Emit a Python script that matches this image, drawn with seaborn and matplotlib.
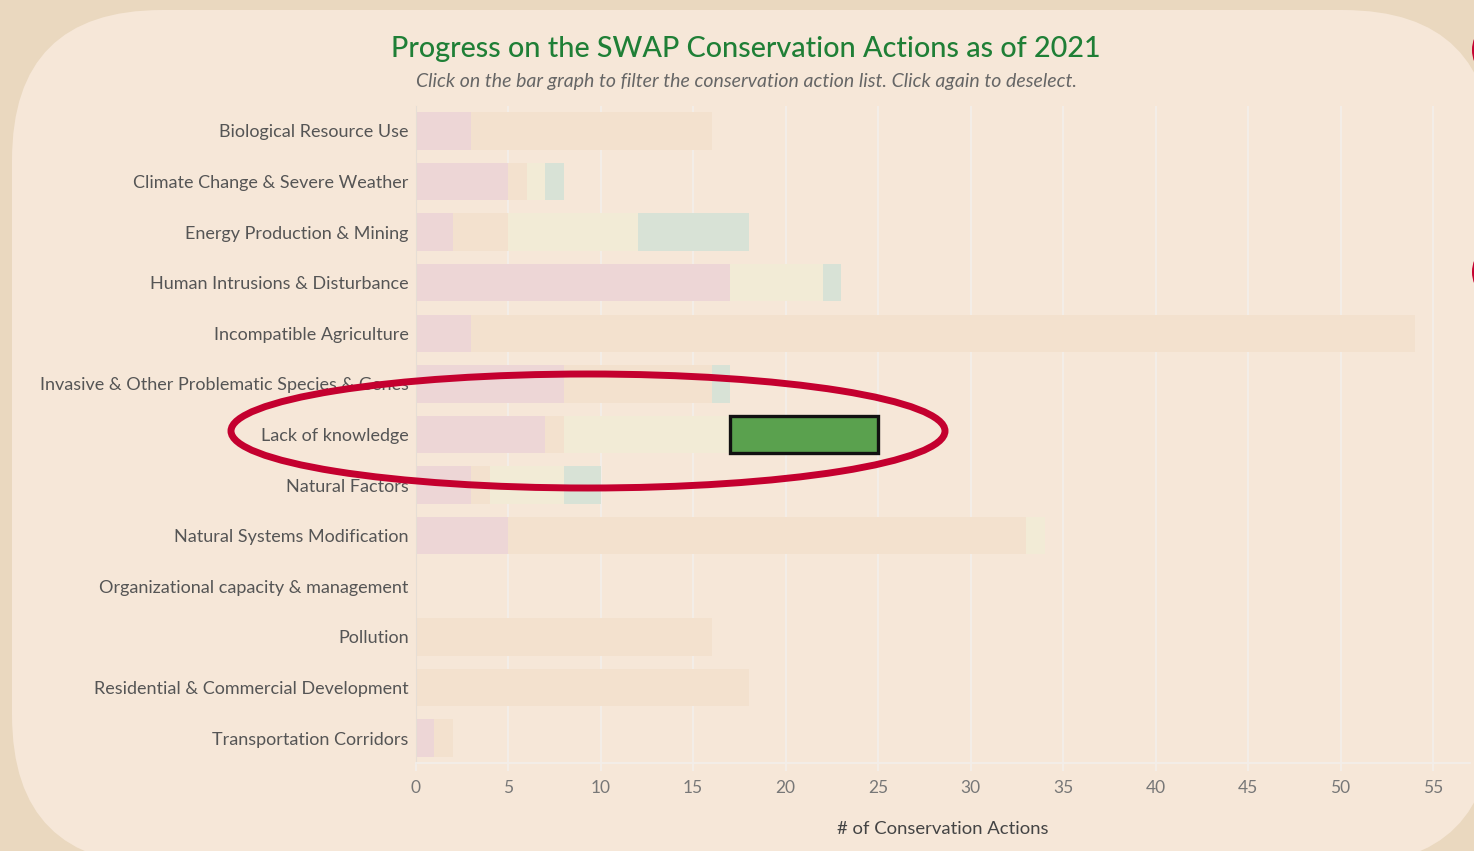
import numpy as np
import pandas as pd
import matplotlib
matplotlib.use("Agg")
import matplotlib.pyplot as plt
from matplotlib.patches import FancyBboxPatch, Ellipse, Circle
from matplotlib.transforms import IdentityTransform
import seaborn as sns

# threat categories (y axis)
categories = ["Biological Resource Use", "Climate Change & Severe Weather",
              "Energy Production & Mining", "Human Intrusions & Disturbance",
              "Incompatible Agriculture", "Invasive & Other Problematic Species & Genes",
              "Lack of knowledge", "Natural Factors", "Natural Systems Modification",
              "Organizational capacity & management", "Pollution",
              "Residential & Commercial Development", "Transportation Corridors"]

# action counts per status (stacked left to right)
not_started = [3, 5, 2, 17, 3, 8, 7, 3, 5, 0, 0, 0, 1]
planned     = [13, 1, 3, 0, 51, 8, 1, 1, 28, 0, 16, 18, 1]
in_progress = [0, 1, 7, 5, 0, 0, 9, 4, 1, 0, 0, 0, 0]
complete    = [0, 1, 6, 1, 0, 1, 8, 2, 0, 0, 0, 0, 0]
selected = "Lack of knowledge"

status_names = ["Not started", "Planned", "In progress", "Complete"]
status_colors = ["#EDD6D6", "#F3E1CE", "#F2EBD6", "#D8E2D6"]

df = pd.DataFrame({"category": categories, "Not started": not_started,
                   "Planned": planned, "In progress": in_progress,
                   "Complete": complete})
cum = df[status_names].cumsum(axis=1)

W, H = 1474, 851
fig = plt.figure(figsize=(W / 100, H / 100), dpi=100)
fig.patch.set_facecolor("#EAD8BF")
plt.rcParams["font.family"] = ["Lato", "DejaVu Sans"]

panel = FancyBboxPatch((12, H - 865), 1481, 855, boxstyle="round,pad=0,rounding_size=150",
                       transform=IdentityTransform(), facecolor="#F6E7D8",
                       edgecolor="none", zorder=-5)
fig.add_artist(panel)

ax = fig.add_axes([415.5 / W, 1 - 763.3 / H, 1054.5 / W, (763.3 - 105.7) / H])
ax.set_facecolor("none")

# stacked bars: draw the longest cumulative first
sel_idx = categories.index(selected)
for i in range(len(status_names) - 1, -1, -1):
    vals = cum[status_names[i]].copy()
    if i == len(status_names) - 1:
        vals.iloc[sel_idx] = cum[status_names[i - 1]].iloc[sel_idx]
    sns.barplot(x=vals, y=df["category"], color=status_colors[i], width=0.74,
                saturation=1, ax=ax, zorder=2)

# highlighted (selected) segment
start = cum["In progress"].iloc[sel_idx]
ax.barh(sel_idx, complete[sel_idx], left=start, height=0.74, color="#5AA14E",
        edgecolor="#111111", linewidth=2.4, zorder=3)

ax.set_xlim(0, 57)
ax.set_ylim(len(categories) - 0.5, -0.5)
ax.set_xticks(range(0, 56, 5))
ax.grid(axis="x", color="#F3EEE9", linewidth=1.3, zorder=0)
ax.set_axisbelow(True)
for s in ["top", "right"]:
    ax.spines[s].set_visible(False)
ax.spines["left"].set_color("#E6DED5")
ax.spines["bottom"].set_color("#F3EEE9")
ax.spines["bottom"].set_linewidth(1.3)
ax.tick_params(axis="x", colors="#F3EEE9", length=6, width=1.3, labelcolor="#777777",
               labelsize=12.5, pad=6)
ax.tick_params(axis="y", length=0, labelcolor="#555555", labelsize=13, pad=5)
ax.set_ylabel("")
ax.set_xlabel("# of Conservation Actions", fontsize=13.3, color="#444444", labelpad=18)

fig.text(746 / W, 1 - 49 / H, "Progress on the SWAP Conservation Actions as of 2021",
         ha="center", va="center", fontsize=20.7, color="#1F7F36", fontweight="medium")
fig.text(746 / W, 1 - 81 / H,
         "Click on the bar graph to filter the conservation action list. Click again to deselect.",
         ha="center", va="center", fontsize=14, style="italic", color="#666666")

# annotation ellipse around the selected row
ell = Ellipse((588, H - 431), 714, 114, transform=IdentityTransform(), fill=False,
              edgecolor="#C4002F", linewidth=5, zorder=10)
fig.add_artist(ell)
for yc in [50, 272]:
    fig.add_artist(Circle((1504, H - yc), 32, transform=IdentityTransform(),
                          facecolor="#C4002F", edgecolor="none", zorder=10))

fig.savefig("out.png", dpi=100, facecolor=fig.get_facecolor())
